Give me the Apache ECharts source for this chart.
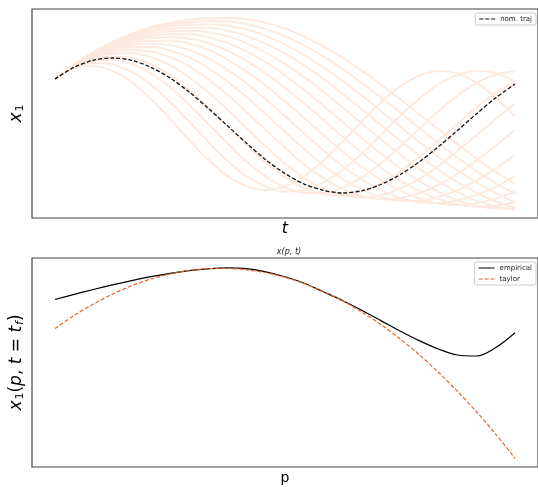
<!DOCTYPE html>
<html>
<head>
<meta charset="utf-8">
<script src="https://cdn.jsdelivr.net/npm/echarts@6/dist/echarts.min.js"></script>
<style>
html, body { margin: 0; padding: 0; background: #fff; }
#main { width: 538px; height: 487px; }
</style>
</head>
<body>
<div id="main"></div>
<script>
// top panel: time samples, nominal trajectory and the perturbed ones
var t = [0, 0.25, 0.5, 0.75, 1, 1.25, 1.5, 1.75, 2, 2.25, 2.5, 2.75, 3,
	3.25, 3.5, 3.75, 4, 4.25, 4.5, 4.75, 5, 5.25, 5.5, 5.75, 6];
var nomTraj = [0.92, 1.156, 1.294, 1.34, 1.294, 1.154, 0.942, 0.66, 0.332, -0.016, -0.366, -0.696, -0.97,
	-1.182, -1.306, -1.36, -1.316, -1.19, -0.994, -0.738, -0.436, -0.108, 0.226, 0.546, 0.82];
var perturbed = [
	[0.92, 1.136, 1.178, 1.082, 0.856, 0.522, 0.124, -0.304, -0.694, -1.018, -1.226, -1.30, -1.228,
		-1.026, -0.716, -0.338, 0.068, 0.456, 0.772, 0.984, 1.078, 1.028, 0.842, 0.544, 0.174],
	[0.92, 1.154, 1.24, 1.21, 1.064, 0.806, 0.462, 0.066, -0.338, -0.72, -1.026, -1.234, -1.334,
		-1.302, -1.15, -0.90, -0.572, -0.20, 0.18, 0.526, 0.81, 1.0, 1.078, 1.036, 0.872],
	[0.92, 1.168, 1.286, 1.306, 1.224, 1.036, 0.756, 0.406, 0.02, -0.368, -0.736, -1.03, -1.248,
		-1.36, -1.36, -1.252, -1.048, -0.768, -0.434, -0.076, 0.276, 0.59, 0.844, 1.008, 1.08],
	[0.92, 1.176, 1.32, 1.37, 1.34, 1.218, 0.996, 0.702, 0.354, -0.024, -0.398, -0.754, -1.042,
		-1.262, -1.384, -1.408, -1.334, -1.172, -0.936, -0.642, -0.314, 0.028, 0.354, 0.642, 0.868],
	[0.92, 1.184, 1.348, 1.424, 1.432, 1.36, 1.196, 0.956, 0.654, 0.304, -0.064, -0.428, -0.772,
		-1.052, -1.272, -1.40, -1.45, -1.404, -1.274, -1.08, -0.82, -0.522, -0.202, 0.122, 0.424],
	[0.92, 1.188, 1.368, 1.466, 1.50, 1.47, 1.36, 1.172, 0.914, 0.604, 0.258, -0.10, -0.454,
		-0.79, -1.062, -1.276, -1.424, -1.484, -1.46, -1.362, -1.198, -0.976, -0.708, -0.412, -0.102],
	[0.92, 1.192, 1.384, 1.502, 1.556, 1.56, 1.494, 1.35, 1.14, 0.87, 0.558, 0.216, -0.136,
		-0.48, -0.808, -1.074, -1.29, -1.44, -1.516, -1.512, -1.44, -1.302, -1.112, -0.874, -0.602],
	[0.92, 1.196, 1.398, 1.534, 1.606, 1.628, 1.598, 1.50, 1.334, 1.104, 0.828, 0.512, 0.174,
		-0.17, -0.504, -0.818, -1.086, -1.30, -1.456, -1.546, -1.558, -1.508, -1.396, -1.23, -1.022],
	[0.92, 1.198, 1.41, 1.558, 1.648, 1.686, 1.688, 1.626, 1.502, 1.31, 1.068, 0.786, 0.47,
		0.138, -0.20, -0.526, -0.834, -1.094, -1.31, -1.468, -1.57, -1.598, -1.564, -1.472, -1.334],
	[0.92, 1.202, 1.42, 1.58, 1.684, 1.74, 1.756, 1.728, 1.64, 1.486, 1.282, 1.032, 0.742,
		0.43, 0.10, -0.23, -0.548, -0.854, -1.112, -1.324, -1.484, -1.588, -1.636, -1.616, -1.546],
	[0.92, 1.204, 1.43, 1.598, 1.716, 1.786, 1.816, 1.814, 1.758, 1.642, 1.472, 1.254, 0.992,
		0.702, 0.388, 0.064, -0.26, -0.57, -0.864, -1.118, -1.336, -1.502, -1.612, -1.67, -1.664],
	[0.92, 1.206, 1.436, 1.614, 1.744, 1.828, 1.872, 1.884, 1.858, 1.776, 1.634, 1.45, 1.22,
		0.958, 0.666, 0.354, 0.034, -0.286, -0.59, -0.878, -1.13, -1.346, -1.516, -1.632, -1.698],
	[0.92, 1.206, 1.444, 1.63, 1.77, 1.864, 1.922, 1.946, 1.942, 1.888, 1.778, 1.626, 1.428,
		1.192, 0.92, 0.626, 0.316, 0.002, -0.312, -0.612, -0.894, -1.144, -1.356, -1.53, -1.656],
	[0.92, 1.208, 1.45, 1.642, 1.792, 1.898, 1.968, 2.004, 2.012, 1.986, 1.91, 1.782, 1.61,
		1.40, 1.154, 0.882, 0.588, 0.282, -0.03, -0.34, -0.632, -0.91, -1.154, -1.364, -1.54],
	[0.92, 1.21, 1.454, 1.654, 1.812, 1.928, 2.008, 2.056, 2.074, 2.068, 2.02, 1.916, 1.776,
		1.59, 1.372, 1.122, 0.846, 0.55, 0.248, -0.058, -0.36, -0.65, -0.922, -1.166, -1.378],
	[0.92, 1.21, 1.458, 1.664, 1.828, 1.956, 2.046, 2.104, 2.134, 2.14, 2.114, 2.042, 1.926,
		1.768, 1.572, 1.348, 1.088, 0.81, 0.52, 0.216, -0.086, -0.384, -0.67, -0.938, -1.168]
];

// bottom panel: parameter samples, empirical final state and its taylor approx
var p = [0, 0.1, 0.2, 0.3, 0.4, 0.5, 0.6, 0.7, 0.8, 0.9, 1.0, 1.1, 1.2,
	1.3, 1.4, 1.5, 1.6, 1.7, 1.8, 1.9, 2.0, 2.1, 2.2, 2.3, 2.4];
var empirical = [1.01, 1.112, 1.21, 1.302, 1.388, 1.466, 1.534, 1.588, 1.624, 1.642, 1.626, 1.564, 1.464,
	1.334, 1.164, 0.99, 0.794, 0.588, 0.38, 0.188, 0.02, -0.10, -0.12, 0.05, 0.346];
var taylor = [0.428, 0.69, 0.92, 1.118, 1.286, 1.42, 1.52, 1.59, 1.628, 1.632, 1.604, 1.546, 1.454,
	1.328, 1.172, 0.984, 0.762, 0.51, 0.224, -0.092, -0.444, -0.826, -1.24, -1.686, -2.166];

var pairs = (xs, ys) => xs.map(function(x, i){ return [x, ys[i]]; });

// legend glyphs: short line samples, tiny corner dots keep the box height
var solidIcon = 'path://M0,0h0.01v0.01h-0.01z M0,3.4h16v1.2h-16z M16,8h0.01v0.01h-0.01z';
var dashIcon = 'path://M0,0h0.01v0.01h-0.01z M0,3.4h4.2v1.2h-4.2z M6,3.4h4.2v1.2h-4.2z M12,3.4h4v1.2h-4z M16,8h0.01v0.01h-0.01z';

var chart = echarts.init(document.getElementById('main'));

var series = [];
perturbed.forEach(function(traj, i){
	series.push({
		name: 'traj' + i,
		type: 'line',
		xAxisIndex: 0,
		yAxisIndex: 0,
		data: pairs(t, traj),
		smooth: 0.3,
		symbol: 'none',
		silent: true,
		z: 1,
		lineStyle: { color: '#fde9dd', width: 1.9 }
	});
});
series.push({
	name: 'nom. traj',
	type: 'line',
	xAxisIndex: 0,
	yAxisIndex: 0,
	data: pairs(t, nomTraj),
	smooth: 0.3,
	symbol: 'none',
	z: 3,
	itemStyle: { color: '#111' },
	lineStyle: { color: '#111', width: 1.3, type: [4, 2] }
});
series.push({
	name: 'empirical',
	type: 'line',
	xAxisIndex: 1,
	yAxisIndex: 1,
	data: pairs(p, empirical),
	smooth: 0.35,
	symbol: 'none',
	z: 3,
	itemStyle: { color: '#000' },
	lineStyle: { color: '#000', width: 1.2 }
});
series.push({
	name: 'taylor',
	type: 'line',
	xAxisIndex: 1,
	yAxisIndex: 1,
	data: pairs(p, taylor),
	smooth: 0.3,
	symbol: 'none',
	z: 4,
	itemStyle: { color: '#e6652a' },
	lineStyle: { color: '#e6652a', width: 1.2, type: [4, 2] }
});

var hidden = {
	axisLine: { show: false },
	axisTick: { show: false },
	axisLabel: { show: false },
	splitLine: { show: false }
};
var legendBase = {
	orient: 'vertical',
	right: 2,
	itemWidth: 16,
	itemHeight: 8,
	itemGap: 3,
	padding: [2, 4, 2, 4],
	borderColor: '#ccc',
	borderWidth: 1,
	borderRadius: 2,
	backgroundColor: '#fff',
	itemStyle: { borderWidth: 0 },
	textStyle: { fontSize: 7, fontFamily: 'DejaVu Sans', color: '#222' }
};

var option = {
	animation: false,
	backgroundColor: '#fff',
	title: {
		text: 'x(p, t)',
		left: 284,
		textAlign: 'center',
		top: 243,
		textStyle: { fontSize: 8, fontStyle: 'italic', fontWeight: 'normal', fontFamily: 'DejaVu Sans', color: '#222' }
	},
	legend: [
		Object.assign({}, legendBase, {
			top: 13,
			data: [{ name: 'nom. traj', icon: dashIcon }]
		}),
		Object.assign({}, legendBase, {
			top: 262,
			data: [{ name: 'empirical', icon: solidIcon }, { name: 'taylor', icon: dashIcon }]
		})
	],
	grid: [
		{ left: 28, right: -2, top: 9, height: 209, show: true, borderColor: '#444', borderWidth: 1.2 },
		{ left: 28, right: -2, top: 258, height: 209, show: true, borderColor: '#444', borderWidth: 1.2 }
	],
	xAxis: [
		Object.assign({
			type: 'value', gridIndex: 0, min: -0.3, max: 6.3,
			name: 't', nameLocation: 'middle', nameGap: 3,
			nameTextStyle: { fontSize: 16, fontStyle: 'italic', fontFamily: 'DejaVu Sans', color: '#000', verticalAlign: 'top' }
		}, hidden),
		Object.assign({
			type: 'value', gridIndex: 1, min: -0.12, max: 2.52,
			name: 'p', nameLocation: 'middle', nameGap: 4,
			nameTextStyle: { fontSize: 14, fontFamily: 'DejaVu Sans', color: '#000', verticalAlign: 'top' }
		}, hidden)
	],
	yAxis: [
		Object.assign({
			type: 'value', gridIndex: 0, min: -1.86, max: 2.32,
			name: '{i|x}{s|1}', nameLocation: 'middle', nameGap: 5, nameRotate: 90,
			nameTextStyle: {
				color: '#000',
				rich: {
					i: { fontSize: 17, fontStyle: 'italic', fontFamily: 'DejaVu Sans', color: '#000', lineHeight: 20 },
					s: { fontSize: 11, fontFamily: 'DejaVu Sans', color: '#000', lineHeight: 20, padding: [7, 0, 0, 1] }
				}
			}
		}, hidden),
		Object.assign({
			type: 'value', gridIndex: 1, min: -2.34, max: 1.84,
			name: '{i|x}{s|1}{n|(}{i|p}{n|, }{i|t}{n| = }{i|t}{si|f}{n|)}',
			nameLocation: 'middle', nameGap: 5, nameRotate: 90,
			nameTextStyle: {
				color: '#000',
				rich: {
					i: { fontSize: 17, fontStyle: 'italic', fontFamily: 'DejaVu Sans', color: '#000', lineHeight: 20 },
					n: { fontSize: 17, fontFamily: 'DejaVu Sans', color: '#000', lineHeight: 20 },
					s: { fontSize: 11, fontFamily: 'DejaVu Sans', color: '#000', lineHeight: 20, padding: [7, 0, 0, 1] },
					si: { fontSize: 11, fontStyle: 'italic', fontFamily: 'DejaVu Sans', color: '#000', lineHeight: 20, padding: [7, 0, 0, 1] }
				}
			}
		}, hidden)
	],
	series: series
};

chart.setOption(option);
</script>
</body>
</html>
